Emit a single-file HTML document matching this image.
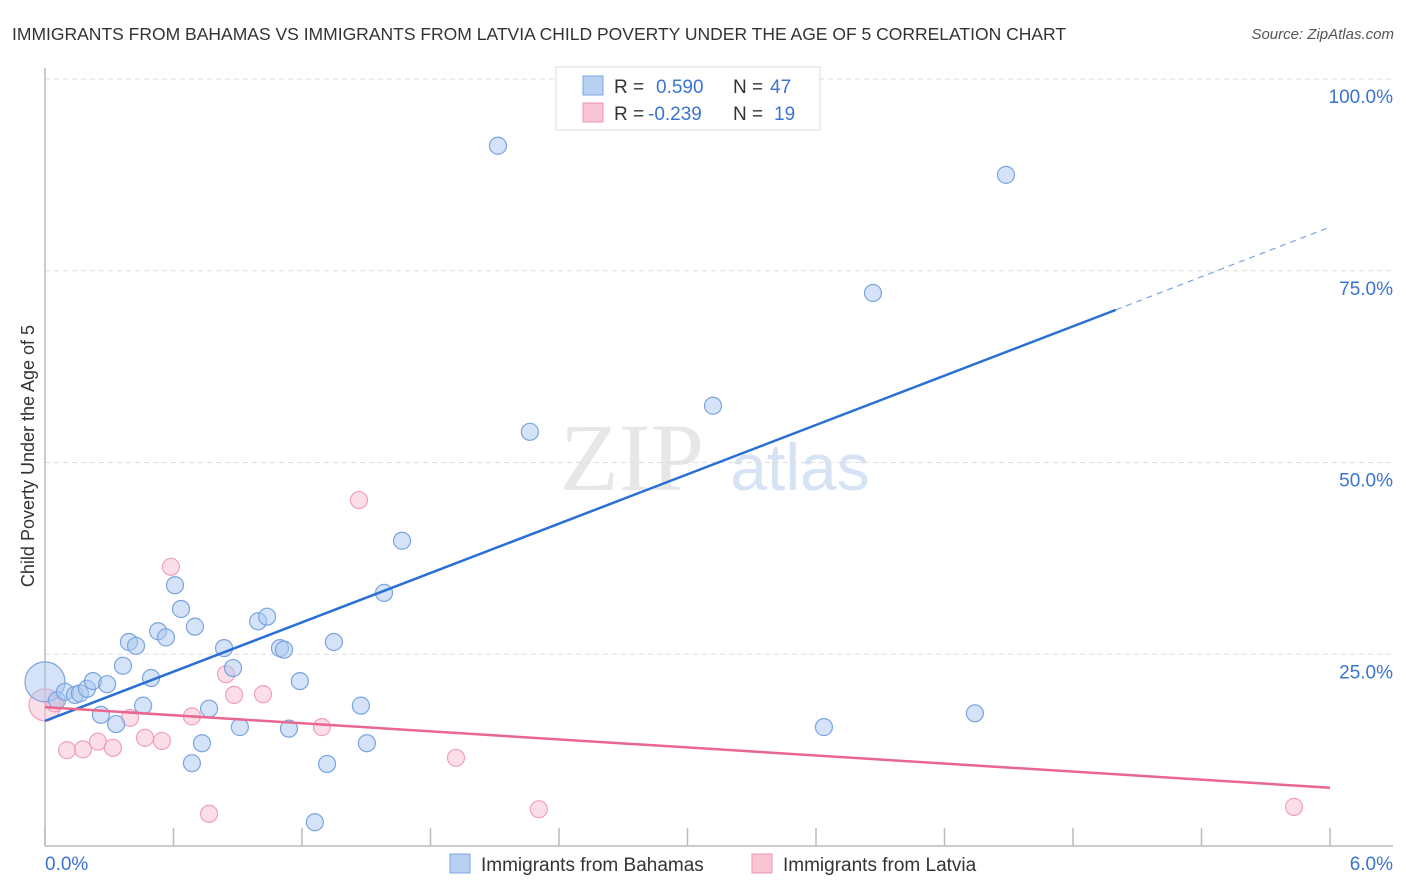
<!DOCTYPE html>
<html><head><meta charset="utf-8"><style>
body{margin:0;background:#fff;font-family:"Liberation Sans",sans-serif;}
#c{position:relative;width:1406px;height:892px;overflow:hidden}
</style></head><body>
<div id="c">
<svg id="s" width="1406" height="892" xmlns="http://www.w3.org/2000/svg">
<text x="12" y="40" font-size="17.5" fill="#333">IMMIGRANTS FROM BAHAMAS VS IMMIGRANTS FROM LATVIA CHILD POVERTY UNDER THE AGE OF 5 CORRELATION CHART</text>
<text x="1394" y="39" font-size="15" fill="#555" font-style="italic" text-anchor="end">Source: ZipAtlas.com</text>
<text x="34" y="456" font-size="18" fill="#333" text-anchor="middle" transform="rotate(-90 34 456)">Child Poverty Under the Age of 5</text>
<g><text x="632" y="490" font-size="96" fill="#ddd" font-family="Liberation Serif,serif" text-anchor="middle" opacity="0.7">ZIP</text><text x="800" y="490" font-size="66" fill="#c5d8f0" text-anchor="middle" opacity="0.7">atlas</text></g>
<g id="grid"></g><g id="axes"></g><g id="pts"></g><g id="trend"></g>
<g>
<rect x="556" y="67" width="264" height="63" fill="#fff" stroke="#ddd"/>
<rect x="583" y="76" width="20" height="19" fill="#b8d1f3" stroke="#7aa4e0"/>
<text x="614" y="93" font-size="19" fill="#333">R = </text><text x="656" y="93" font-size="19" fill="#3b74d0">0.590</text>
<text x="733" y="93" font-size="19" fill="#333">N = </text><text x="770" y="93" font-size="19" fill="#3b74d0">47</text>
<rect x="583" y="103" width="20" height="19" fill="#f9c5d5" stroke="#ee94b0"/>
<text x="614" y="120" font-size="19" fill="#333">R = </text><text x="648" y="120" font-size="19" fill="#3b74d0">-0.239</text>
<text x="733" y="120" font-size="19" fill="#333">N = </text><text x="774" y="120" font-size="19" fill="#3b74d0">19</text>
</g>
<g>
<rect x="450" y="854" width="20" height="19" fill="#b8d1f3" stroke="#7aa4e0"/>
<text x="481" y="871" font-size="19" fill="#333">Immigrants from Bahamas</text>
<rect x="752" y="854" width="20" height="19" fill="#f9c5d5" stroke="#ee94b0"/>
<text x="783" y="871" font-size="19" fill="#333">Immigrants from Latvia</text>
</g>
</svg></div>
<script>
const blueX=[0,0.056,0.093,0.14,0.163,0.196,0.224,0.29,0.261,0.332,0.364,0.392,0.425,0.458,0.495,0.528,0.565,0.607,0.635,0.70,0.686,0.733,0.766,0.836,0.878,0.91,0.995,1.037,1.097,1.116,1.139,1.19,1.26,1.317,1.349,1.475,1.503,1.583,1.667,2.115,2.264,3.119,3.637,3.866,4.342,4.487,2.965];
const blueY=[21.4,19.0,20.1,19.7,19.9,20.5,21.5,21.1,17.1,15.9,23.5,26.6,26.1,18.3,21.9,28.0,27.2,34.0,30.9,28.6,10.8,13.4,17.9,25.8,23.2,15.5,29.3,29.9,25.8,25.6,15.3,21.5,3.1,10.7,26.6,18.3,13.4,33.0,39.8,91.3,54.0,57.4,15.5,72.1,17.3,87.5,100.1];
const pinkX=[0,0.047,0.103,0.177,0.247,0.317,0.397,0.467,0.546,0.588,0.686,0.766,0.845,0.883,1.018,1.293,1.466,1.919,2.306,5.832];
const pinkY=[18.4,18.6,12.5,12.6,13.6,12.8,16.7,14.1,13.7,36.4,16.9,4.2,22.4,19.7,19.8,15.5,45.1,11.5,4.8,5.1];
const yTicks=[25,50,75,100];
const yTickLabels=["25.0%","50.0%","75.0%","100.0%"];
const xTicks=[0,0.6,1.2,1.8,2.4,3.0,3.6,4.2,4.8,5.4,6.0];
const blueTrend=[16.3,69.9,80.7]; // at x=0, 5.0, 6.0
const pinkTrend=[18.1,7.6]; // at x=0, 6
const X=v=>45+v/6*1285, Y=v=>846-v*7.67;
const NS="http://www.w3.org/2000/svg";
function mk(p,t,a){const e=document.createElementNS(NS,t);for(const k in a)e.setAttribute(k,a[k]);document.getElementById(p).appendChild(e);return e;}
yTicks.forEach((t,i)=>{
 const l=mk('grid','line',{x1:45,x2:1393,y1:Y(t),y2:Y(t),stroke:'#ddd','stroke-dasharray':'5,4'});
 
 
 const tx=mk('grid','text',{x:1393,y:Y(t)+24,'font-size':19,fill:'#3b74d0','text-anchor':'end'});
 tx.textContent=yTickLabels[i];
 
 
});
const ya=mk('axes','line',{x1:45,x2:45,y1:68,y2:846,stroke:'#bbb','stroke-width':1.5});


const xa=mk('axes','line',{x1:45,x2:1393,y1:846,y2:846,stroke:'#bbb','stroke-width':1.5});


xTicks.forEach(t=>{const l=mk('axes','line',{x1:X(t),x2:X(t),y1:828,y2:846,stroke:'#bbb','stroke-width':1.5});
 
 });
const xl0=mk('axes','text',{x:45,y:870,'font-size':19,fill:'#3b74d0'});xl0.textContent='0.0%';


const xl1=mk('axes','text',{x:1393,y:870,'font-size':19,fill:'#3b74d0','text-anchor':'end'});xl1.textContent='6.0%';


pinkX.forEach((x,i)=>{const c=mk('pts','circle',{cx:X(x),cy:Y(pinkY[i]),r:i==0?16:8.5,fill:'rgba(249,190,210,0.5)',stroke:'#f0a0bb','stroke-width':1.2});
 
 });
blueX.forEach((x,i)=>{const c=mk('pts','circle',{cx:X(x),cy:Y(blueY[i]),r:i==0?20:8.5,fill:'rgba(170,200,240,0.5)',stroke:'#7aa4e0','stroke-width':1.2});
 
 });
const bt=mk('trend','line',{x1:X(0),y1:Y(blueTrend[0]),x2:X(5.0),y2:Y(blueTrend[1]),stroke:'#2a6fd6','stroke-width':2.5});


const bd=mk('trend','line',{x1:X(5.0),y1:Y(blueTrend[1]),x2:X(6),y2:Y(blueTrend[2]),stroke:'#7aa4e0','stroke-width':1.2,'stroke-dasharray':'6,5'});


const pt=mk('trend','line',{x1:X(0),y1:Y(pinkTrend[0]),x2:X(6),y2:Y(pinkTrend[1]),stroke:'#e8668f','stroke-width':2.5});


</script>
</body></html>
